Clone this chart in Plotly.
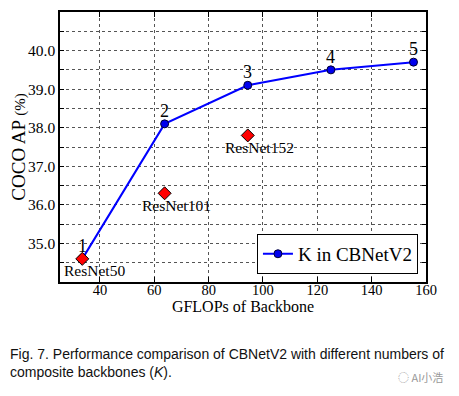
import plotly.graph_objects as go

# Data
k_values = ["1", "2", "3", "4", "5"]
k_gflops = [33.5, 63.8, 94.4, 125.0, 155.4]
k_ap = [34.6, 38.1, 39.1, 39.5, 39.7]

resnet_names = ["ResNet50", "ResNet101", "ResNet152"]
resnet_gflops = [33.5, 63.8, 94.4]
resnet_ap = [34.6, 36.3, 37.8]

x_ticks = [40, 60, 80, 100, 120, 140, 160]
y_ticks = [34.5, 35.0, 35.5, 36.0, 36.5, 37.0, 37.5, 38.0, 38.5, 39.0, 39.5, 40.0, 40.5]
y_labels = ["" if abs(v * 2 % 2 - 1) < 1e-9 else f"{v:.1f}" for v in y_ticks]

SERIF = "Liberation Serif, DejaVu Serif, serif"

fig = go.Figure()

fig.add_trace(go.Scatter(
    x=k_gflops, y=k_ap, mode="lines+markers", name="K in CBNetV2",
    line=dict(color="#0000ff", width=2),
    marker=dict(symbol="circle", size=8, color="#0000ee", line=dict(color="#000033", width=1)),
))
fig.add_trace(go.Scatter(
    x=resnet_gflops, y=resnet_ap, mode="markers", showlegend=False,
    marker=dict(symbol="diamond", size=10, color="#ff0000", line=dict(color="#000000", width=1)),
))

annotations = []
for lab, x, y in zip(k_values, k_gflops, k_ap):
    annotations.append(dict(x=x, y=y, text=lab, showarrow=False, yshift=13,
                            font=dict(family=SERIF, size=18, color="black")))
for lab, x, y in zip(resnet_names, resnet_gflops, resnet_ap):
    annotations.append(dict(x=x, y=y, text=lab, showarrow=False, yshift=-12, xshift=12,
                            font=dict(family=SERIF, size=15.5, color="black")))

annotations.append(dict(xref="paper", yref="paper", x=-0.142, y=-0.231, xanchor="left", yanchor="top",
                        align="left", showarrow=False,
                        text="Fig. 7. Performance comparison of CBNetV2 with different numbers of<br>composite backbones (<i>K</i>).",
                        font=dict(family="Liberation Sans, Arial, sans-serif", size=14, color="#111111")))
annotations.append(dict(xref="paper", yref="paper", x=1.052, y=-0.352, xanchor="right", yanchor="middle",
                        showarrow=False, text="◌ AI小浩",
                        font=dict(family="Noto Sans CJK SC, sans-serif", size=11, color="#999999")))

fig.update_layout(
    width=459, height=396,
    margin=dict(l=52, r=41, t=4, b=122),
    paper_bgcolor="white", plot_bgcolor="white",
    font=dict(family=SERIF, size=14, color="black"),
    annotations=annotations,
    legend=dict(x=0.978, y=0.03, xanchor="right", yanchor="bottom",
                bordercolor="black", borderwidth=1, bgcolor="white",
                font=dict(family=SERIF, size=19, color="black")),
    showlegend=True,
)

fig.update_xaxes(
    range=[25.3, 160], tickvals=x_ticks, ticktext=[str(v) for v in x_ticks],
    showgrid=True, gridcolor="#555555", griddash="dot", gridwidth=1,
    showline=True, linecolor="black", linewidth=1.5, mirror="allticks",
    ticks="inside", ticklen=5, tickcolor="black", automargin=False,
    ticklabelstandoff=-6,
    title=dict(text="GFLOPs of Backbone", font=dict(family=SERIF, size=16), standoff=0),
    zeroline=False, tickfont=dict(family=SERIF, size=14.5),
)
fig.update_yaxes(
    range=[34.0, 41.0], tickvals=y_ticks, ticktext=y_labels,
    showgrid=True, gridcolor="#555555", griddash="dot", gridwidth=1,
    showline=True, linecolor="black", linewidth=1.5, mirror="allticks",
    ticks="inside", ticklen=4, tickcolor="black", automargin=False,
    title=dict(text="COCO AP <span style='font-size:15px'>(%)</span>",
               font=dict(family=SERIF, size=19), standoff=2),
    zeroline=False, tickfont=dict(family=SERIF, size=15.5),
)

fig.write_html("out.html")
